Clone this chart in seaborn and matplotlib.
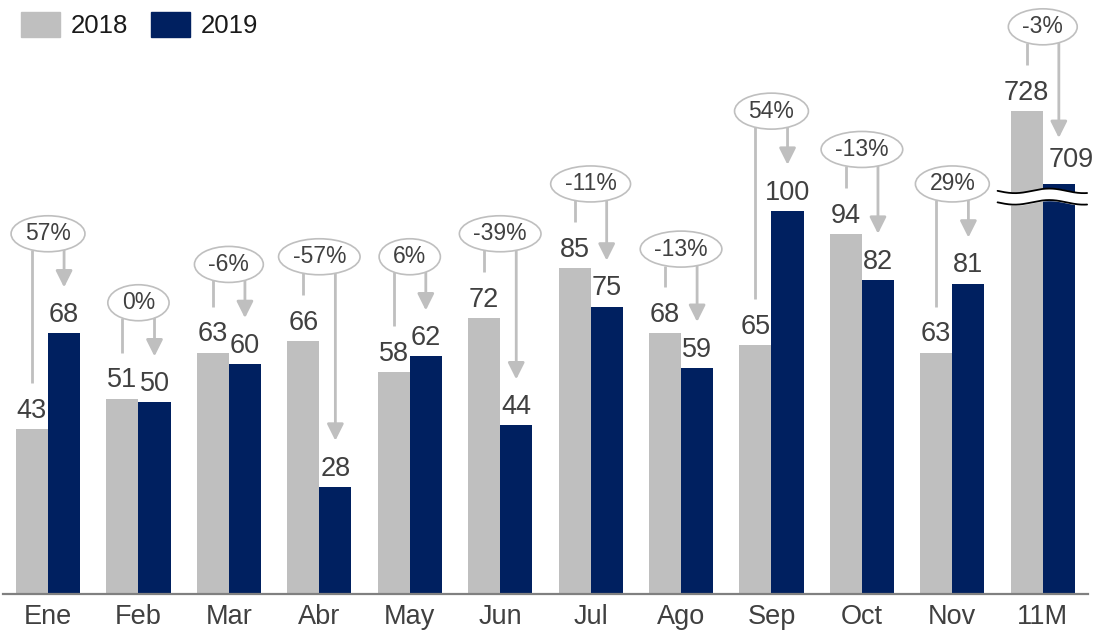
import numpy as np
import pandas as pd
import matplotlib
matplotlib.use('Agg')
import matplotlib.pyplot as plt
import seaborn as sns
from matplotlib.patches import Ellipse, Patch

# Data
months = ['Ene', 'Feb', 'Mar', 'Abr', 'May', 'Jun', 'Jul', 'Ago', 'Sep', 'Oct', 'Nov', '11M']
sales_2018 = [43, 51, 63, 66, 58, 72, 85, 68, 65, 94, 63, 728]
sales_2019 = [68, 50, 60, 28, 62, 44, 75, 59, 100, 82, 81, 709]
pct_change = ['57%', '0%', '-6%', '-57%', '6%', '-39%', '-11%', '-13%', '54%', '-13%', '29%', '-3%']
break_cut = 602  # units cut out of the 11M bars by the axis break

# Style
sns.set_style('white')
plt.rcParams['font.family'] = ['Liberation Sans', 'DejaVu Sans']
grey = '#BFBFBF'
navy = '#002060'
text_col = '#404040'

shown_2018 = [v - break_cut if m == '11M' else v for m, v in zip(months, sales_2018)]
shown_2019 = [v - break_cut if m == '11M' else v for m, v in zip(months, sales_2019)]

df = pd.DataFrame({
    'month': months * 2,
    'year': ['2018'] * len(months) + ['2019'] * len(months),
    'shown': shown_2018 + shown_2019,
})

fig = plt.figure(figsize=(10.93, 6.3), dpi=100)
ax = fig.add_axes([2.8 / 1093, 36 / 630, (1088 - 2.8) / 1093, 594 / 630])

bar_w = 0.71
sns.barplot(data=df, x='month', y='shown', hue='year', palette=[grey, navy],
            width=bar_w, gap=0, saturation=1, legend=False, linewidth=0,
            edgecolor='none', ax=ax)

ax.set_xlim(-0.5, len(months) - 0.5)
ax.set_ylim(0, 155)
ax.set_xlabel('')
ax.set_ylabel('')
ax.set_yticks([])
for side in ['left', 'top', 'right']:
    ax.spines[side].set_visible(False)
ax.spines['bottom'].set_color('#808080')
ax.spines['bottom'].set_linewidth(1.6)
ax.tick_params(axis='x', length=0, labelsize=19.5, labelcolor=text_col, pad=7.5)

# pixels per data unit, to size the bubbles
fig.canvas.draw()
p0 = ax.transData.transform((0, 0))
p1 = ax.transData.transform((1, 1))
unit_x = p1[0] - p0[0]
unit_y = p1[1] - p0[1]
renderer = fig.canvas.get_renderer()

# Value labels, percentage bubbles and arrows
off = bar_w / 4
ell_h = 36 / unit_y
for i, (a, b) in enumerate(zip(shown_2018, shown_2019)):
    xl, xr = i - off, i + off
    is_total = months[i] == '11M'
    ax.text(xl, a + 2.9, str(sales_2018[i]), ha='center', va='baseline',
            fontsize=19.5, color=text_col)
    ax.text(xr + (0.14 if is_total else 0), b + (4.3 if is_total else 2.9),
            str(sales_2019[i]), ha='center', va='baseline',
            fontsize=19.5, color=text_col)

    cy = max(a + 22, b + 26)
    t = ax.text(i, cy, pct_change[i], ha='center', va='center', fontsize=16.5,
                color=text_col, zorder=5)
    tw = t.get_window_extent(renderer).width
    ell_w = (tw + 28) / unit_x
    ax.add_patch(Ellipse((i, cy), ell_w, ell_h, facecolor='white',
                         edgecolor=grey, lw=1.2, zorder=4))
    dy = (ell_h / 2) * np.sqrt(max(0.0, 1 - (off / (ell_w / 2)) ** 2))
    ax.plot([xl, xl], [cy - dy, a + 12], color=grey, lw=2, solid_capstyle='butt')
    ax.annotate('', xy=(xr, b + 12), xytext=(xr, cy - dy),
                arrowprops=dict(arrowstyle='-|>,head_length=0.5,head_width=0.25',
                                mutation_scale=20, color=grey, lw=2,
                                shrinkA=0, shrinkB=0))

# Axis break on the 11M bars
last = len(months) - 1
xs = np.linspace(last - 0.5, last + 0.49, 200)
wave = 0.6 * np.sin((xs - xs[0]) / (xs[-1] - xs[0]) * 2.6 * np.pi + np.pi)
top = shown_2019[-1] - 1.8 + wave
bot = top - 3.0
ax.fill_between(xs, bot, top, color='white', zorder=3)
ax.plot(xs, top, color='black', lw=1.3, zorder=3)
ax.plot(xs, bot, color='black', lw=1.3, zorder=3)

# Legend
handles = [Patch(color=grey, label='2018'), Patch(color=navy, label='2019')]
fig.legend(handles=handles, loc='upper left', bbox_to_anchor=(21 / 1093, 1 - 12 / 630),
           ncol=2, frameon=False, fontsize=18.5, handlelength=1.5, handleheight=1.1,
           handletextpad=0.44, columnspacing=0.9, borderpad=0, borderaxespad=0,
           labelcolor='#1a1a1a')

fig.savefig('out.png', dpi=100)
